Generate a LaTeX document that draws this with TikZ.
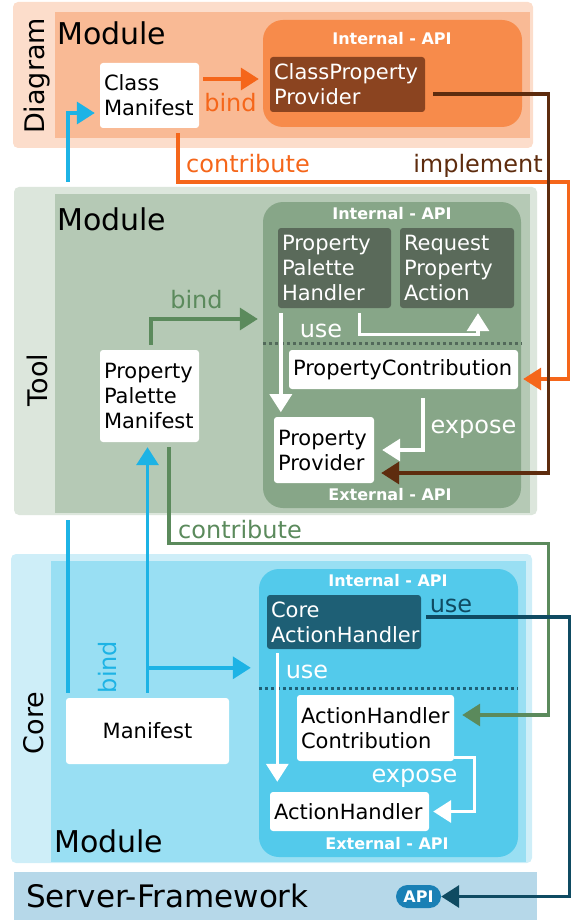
\documentclass[tikz,border=0pt]{standalone}
\usepackage{fontspec}
\setmainfont{DejaVu Sans}
\usetikzlibrary{arrows.meta,calc}
\hyphenpenalty=10000
\exhyphenpenalty=10000

% palette
\definecolor{dgOuter}{HTML}{FCDDCB}
\definecolor{dgInner}{HTML}{F9BA95}
\definecolor{dgInt}{HTML}{F78B4B}
\definecolor{dgDark}{HTML}{8B4420}
\definecolor{orangeLn}{HTML}{F5661A}
\definecolor{brownLn}{HTML}{5E2C0E}
\definecolor{tlOuter}{HTML}{DCE6DC}
\definecolor{tlInner}{HTML}{B5C9B5}
\definecolor{tlInt}{HTML}{87A688}
\definecolor{tlDark}{HTML}{5A6A5A}
\definecolor{greenLn}{HTML}{5B8A5C}
\definecolor{tlDot}{HTML}{52695A}
\definecolor{crOuter}{HTML}{CEEEF8}
\definecolor{crInner}{HTML}{99DFF3}
\definecolor{crInt}{HTML}{53CAEB}
\definecolor{crDark}{HTML}{1E5F75}
\definecolor{blueLn}{HTML}{1DB3E5}
\definecolor{darkLn}{HTML}{0F4B62}
\definecolor{srvBg}{HTML}{B6D8E9}
\definecolor{apiBg}{HTML}{1A80B5}

\tikzset{
  boxtext/.style={font=\fontsize{21}{25}\selectfont},
  box/.style={rectangle, rounded corners=3pt, inner xsep=4pt, inner ysep=0pt,
    align=left, boxtext},
  wbox/.style={box, fill=white, text=black},
  dbox/.style={box, text=white},
  area/.style={rectangle, rounded corners=20pt, inner sep=0pt},
  apititle/.style={font=\bfseries\fontsize{16}{19}\selectfont, text=white, inner sep=0pt},
  sectitle/.style={font=\fontsize{30}{35}\selectfont, inner sep=0pt},
  sidetitle/.style={font=\fontsize{27}{32}\selectfont, inner sep=0pt, rotate=90},
  lbl/.style={font=\fontsize{24}{28}\selectfont, inner sep=0pt, anchor=base},
  conn/.style={line width=3.4pt, -{Triangle[length=18pt,width=22pt]}},
  oconn/.style={conn, orangeLn},
  bconn/.style={conn, brownLn},
  gconn/.style={conn, greenLn},
  blconn/.style={conn, blueLn},
  wconn/.style={conn, white},
  dconn/.style={conn, darkLn},
  dotsep/.style={line width=3pt, dash pattern=on 3pt off 3pt},
}

\begin{document}
\begin{tikzpicture}[x=1pt,y=-1pt]
\useasboundingbox (0,0) rectangle (571,920);

% ---------- Diagram module background
\fill[dgOuter, rounded corners=5pt] (13,2) rectangle (533,148);
\fill[dgInner] (55,12) rectangle (530,138);
\node[area, fill=dgInt, minimum width=259pt, minimum height=107pt] (dgI) at (392.5,73.5) {};
\node[sidetitle] at (37,76) {Diagram};
\node[sectitle, anchor=base west] at (57,45) {Module};
\node[apititle] at (392,39) {Internal - API};

% ---------- Core module background
\fill[crOuter, rounded corners=5pt] (11,554) rectangle (532,863);
\fill[crInner] (51,561) rectangle (526,862);
\node[area, fill=crInt, minimum width=259pt, minimum height=288pt] (crI) at (388.5,713) {};
\node[sidetitle] at (34,723) {Core};
\node[sectitle, anchor=base west] at (54,852) {Module};
\node[apititle] at (388,581) {Internal - API};
\node[apititle] at (387,844) {External - API};
\draw[dotsep, crDark] ($(crI.west)+(0,-25)$) -- ($(crI.east)+(0,-25)$);

% ---------- Diagram and Core nodes
\node[wbox, minimum height=65pt, text width=91pt] (cm) at (149.5,95.5) {Class\\Manifest};
\node[dbox, fill=dgDark, minimum height=55pt, text width=147pt] (cpp) at (347.5,84.5) {ClassProperty\\Provider};
\node[dbox, fill=crDark, minimum height=54pt, text width=146pt] (cah) at (344,622) {Core\\ActionHandler};
\node[wbox, minimum height=66pt, text width=149pt] (ahc) at (375.5,728) {ActionHandler\\Contribution};
\node[wbox, align=center, minimum height=66pt, minimum width=163pt] (man) at (147.5,731) {Manifest};
\node[wbox, minimum height=39pt, text width=151pt] (ah) at (349.5,811.5) {ActionHandler};

% Manifest binds the Class Manifest (runs behind the Tool module)
\draw[blconn] ($(man.north west)+(2,-5)$) |- ($(cm.west)+(-5,17.5)$);

% ---------- Tool module background
\fill[white] (9,182) rectangle (542,520);
\fill[tlOuter, rounded corners=5pt] (14,187) rectangle (537,515);
\fill[tlInner] (55,194) rectangle (530,513);
\node[area, fill=tlInt, minimum width=258pt, minimum height=306pt] (tlI) at (392,355) {};
\node[sidetitle] at (37,380) {Tool};
\node[sectitle, anchor=base west] at (57,230) {Module};
\node[apititle] at (392,214) {Internal - API};
\node[apititle] at (390,495) {External - API};
\draw[dotsep, tlDot] ($(tlI.west)+(0,-12)$) -- ($(tlI.east)+(0,-12)$);

% ---------- Tool nodes
\node[dbox, fill=tlDark, minimum height=80pt, text width=105pt] (pph) at (334.5,268) {Property\\Palette\\Handler};
\node[dbox, fill=tlDark, minimum height=80pt, text width=106pt] (rpa) at (457,268) {Request\\Property\\Action};
\node[wbox, minimum height=39pt, text width=221pt] (pc) at (403.5,369.5) {PropertyContribution};
\node[wbox, minimum height=92pt, text width=91pt] (ppm) at (149.5,396) {Property\\Palette\\Manifest};
\node[wbox, minimum height=66pt, text width=92pt] (pp) at (324,450) {Property\\Provider};

% ---------- Server framework
\fill[srvBg] (14,872) rectangle (537,920);
\node[sectitle, font=\fontsize{31}{36}\selectfont, anchor=base west] at (26,907) {Server-Framework};
\node[rectangle, rounded corners=11.5pt, fill=apiBg, minimum width=45pt, minimum height=23pt,
  inner sep=0pt, font=\bfseries\fontsize{16}{19}\selectfont, text=white] (api) at (418.5,896.5) {API};

% ---------- Connectors: Diagram
\draw[oconn] ($(cm.east)+(4,-16.5)$) -- ($(dgI.west)+(-4,5.5)$);
\node[lbl, orangeLn] at (230.5,111.5) {bind};
\draw[oconn] ($(cm.south)+(28.5,5)$) -- ++(0,49) -| ($(pc.east)+(50,9.5)$) -- ($(pc.east)+(5,9.5)$);
\node[lbl, orangeLn] at (248,173) {contribute};
\draw[bconn] ($(cpp.east)+(8,9.5)$) -| ($(pp.east)+(174,23)$) -- ($(pp.east)+(7,23)$);
\node[lbl, brownLn] at (478,173) {implement};

% ---------- Connectors: Tool
\draw[gconn, shorten <=5pt, shorten >=5pt] ($(ppm.north)+(1.5,0)$) |- ($(tlI.west)+(0,-36)$);
\node[lbl, greenLn] at (196.5,308) {bind};
\draw[wconn] ($(pph.south west)+(3,5)$) -- ++(0,99);
\node[lbl, white] at (321,337) {use};
\draw[wconn] ($(pph.south east)+(-32,5)$) -- ++(0,21) -| ($(rpa.south)+(21,5)$);
\draw[wconn] ($(pc.south)+(19.5,9)$) |- ($(pp.east)+(8,0)$);
\node[lbl, white] at (473.5,433) {expose};
\draw[gconn] ($(ppm.south)+(19.5,5)$) -- ++(0,96) -| ($(ahc.east)+(94,-13)$) -- ($(ahc.east)+(8,-13)$);
\node[lbl, greenLn] at (240,538) {contribute};

% ---------- Connectors: Core
\draw[blconn, shorten <=5pt, shorten >=5pt] (man.north) -- (man.north |- ppm.south);
\coordinate (bj) at ($(man.north)+(0,-30)$);
\draw[blconn, shorten >=8pt] (bj) -- (bj -| crI.west);
\node[lbl, blueLn, rotate=90, anchor=center] at (108,667) {bind};
\draw[wconn] ($(cah.south west)+(10.5,4)$) -- ($(ah.north west)+(7.5,-10)$);
\node[lbl, white] at (307,678) {use};
\draw[wconn] ($(ahc.south east)+(0,-4)$) -- ++(20,0) |- ($(ah.east)+(4,0)$);
\node[lbl, white] at (414.5,782) {expose};
\draw[dconn] ($(cah.east)+(5,-5)$) -- ++(143,0) |- (api.east);
\node[lbl, darkLn] at (451,612) {use};

\end{tikzpicture}
\end{document}
